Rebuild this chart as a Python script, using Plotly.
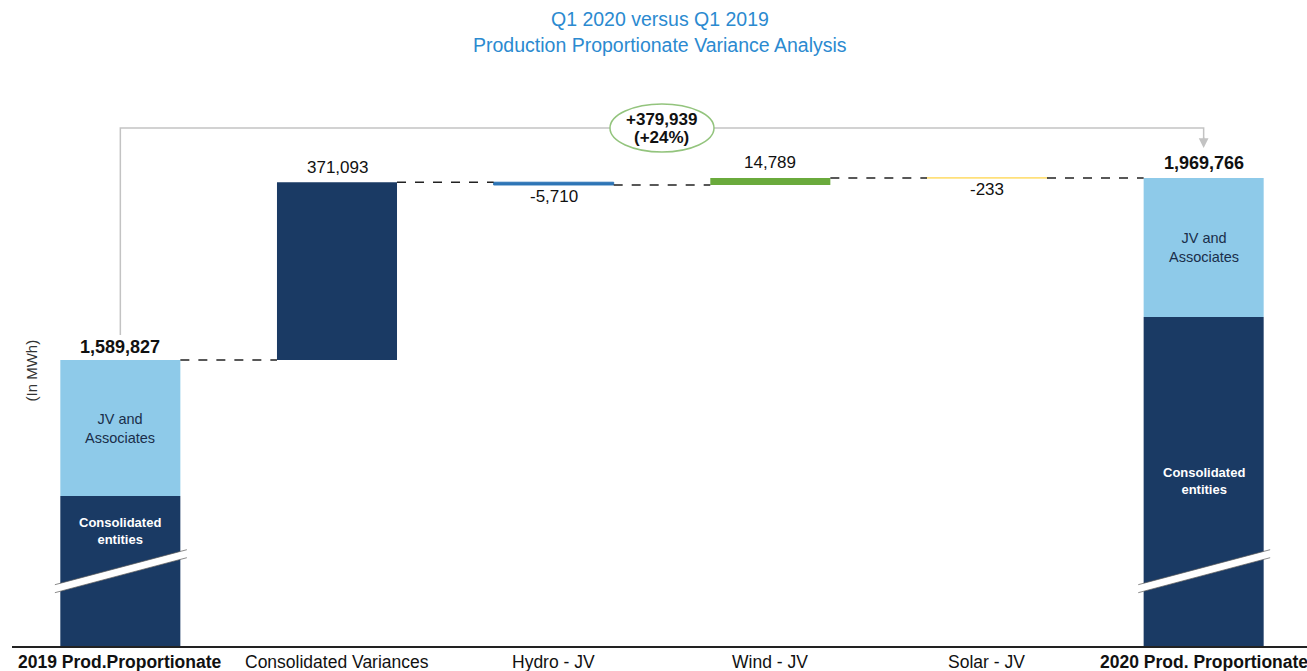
import plotly.graph_objects as go

# ---------------- data ----------------
categories = ["2019 Prod.Proportionate", "Consolidated Variances", "Hydro - JV",
              "Wind - JV", "Solar - JV", "2020 Prod. Proportionate"]
start_total = 1589827
variances = [371093, -5710, 14789, -233]          # Consolidated, Hydro, Wind, Solar
end_total = 1969766
jv_part = [284000, 290000]                         # JV and Associates segment (2019, 2020), estimated
total_change = 379939
total_change_pct = "+24%"
y_unit = "(In MWh)"
title_lines = ["Q1 2020 versus Q1 2019", "Production Proportionate Variance Analysis"]

# ---------------- style ----------------
NAVY = "#1a3a64"
LIGHT = "#8ecae9"
HYDRO = "#2e75b6"
WIND = "#6aaa3c"
SOLAR = "#ffe07a"
GRAY = "#c3c3c3"
FONT = "Liberation Sans, Arial, sans-serif"
TITLE_BLUE = "#2b8ad0"

# axis geometry (broken axis: range starts well above zero)
Y_MIN, Y_MAX = 992800, 2195200
PLOT_TOP, PLOT_BOTTOM = 70, 646
K = (Y_MAX - Y_MIN) / (PLOT_BOTTOM - PLOT_TOP)     # MWh per pixel
BW = 0.554                                          # bar width in category units
HW = BW / 2

def px(dpx):
    """convert a pixel offset into data units"""
    return dpx * K

def paper_y(py):
    return (PLOT_BOTTOM - py) / (PLOT_BOTTOM - PLOT_TOP)

# cumulative levels
levels = [start_total]
for v in variances:
    levels.append(levels[-1] + v)

fig = go.Figure()

# start / end bars (stacked: consolidated entities + JV)
totals = [start_total, end_total]
xs_tot = [categories[0], categories[5]]
fig.add_trace(go.Bar(x=xs_tot, y=[t - j for t, j in zip(totals, jv_part)], base=[0, 0],
                     marker=dict(color=NAVY, line=dict(width=0)), width=BW, hoverinfo="skip"))
fig.add_trace(go.Bar(x=xs_tot, y=jv_part, base=[t - j for t, j in zip(totals, jv_part)],
                     marker=dict(color=LIGHT, line=dict(width=0)), width=BW, hoverinfo="skip"))

# variance bars
var_colors = [NAVY, HYDRO, WIND, SOLAR]
var_line_w = [0, 1, 0, 1.6]
for i, v in enumerate(variances):
    lo = min(levels[i], levels[i + 1])
    fig.add_trace(go.Bar(x=[categories[i + 1]], y=[abs(v)], base=[lo],
                         marker=dict(color=var_colors[i], line=dict(color=var_colors[i], width=var_line_w[i])),
                         width=BW, hoverinfo="skip"))

shapes = []
# dashed connectors
for i in range(5):
    shapes.append(dict(type="line", xref="x", yref="y", x0=i + HW, x1=i + 1 - HW,
                       y0=levels[i], y1=levels[i],
                       line=dict(color="#222222", width=1.5, dash="dash")))

# break marks on start/end bars
BREAK = 1150000
for xi in [0, 5]:
    xl, xr = xi - HW - 0.025, xi + HW + 0.03
    yl_top, yl_bot = BREAK + px(-14), BREAK + px(-22)
    yr_top, yr_bot = BREAK + px(21), BREAK + px(13)
    shapes.append(dict(type="path", xref="x", yref="y",
                       path=f"M {xl},{yl_bot} L {xr},{yr_bot} L {xr},{yr_top} L {xl},{yl_top} Z",
                       fillcolor="white", line=dict(width=0)))
    for (a, b) in [(yl_top, yr_top), (yl_bot, yr_bot)]:
        shapes.append(dict(type="line", xref="x", yref="y", x0=xl, x1=xr, y0=a, y1=b,
                           line=dict(color="rgba(90,90,90,0.7)", width=1)))

# bracket showing the total change
BR_Y = end_total + px(50)
shapes.append(dict(type="path", xref="x", yref="y",
                   path=f"M 0,{start_total + px(25)} L 0,{BR_Y} L 5,{BR_Y} L 5,{end_total + px(34)}",
                   line=dict(color=GRAY, width=1.5)))
# ellipse
shapes.append(dict(type="circle", xref="x", yref="y", x0=2.5 - 0.24, x1=2.5 + 0.24,
                   y0=BR_Y - px(24), y1=BR_Y + px(24),
                   fillcolor="white", line=dict(color="#93c47d", width=1.5)))

ann = []
# title
for line, py in zip(title_lines, [19, 45]):
    ann.append(dict(x=0.5, y=paper_y(py), xref="paper", yref="paper", showarrow=False,
                    text=line, xanchor="center", yanchor="middle",
                    font=dict(size=19.5, color=TITLE_BLUE, family=FONT)))
# category labels under the axis
for i, c in enumerate(categories):
    bold = i in (0, 5)
    ann.append(dict(x=c, y=paper_y(662), xref="x", yref="paper", showarrow=False,
                    text=f"<b>{c}</b>" if bold else c, xanchor="center", yanchor="middle",
                    font=dict(size=17.5, color="#111", family=FONT)))
# arrow head at the right end of bracket
ann.append(dict(x=5, y=end_total + px(30), xref="x", yref="y", ax=5, ay=end_total + px(42),
                axref="x", ayref="y", showarrow=True, arrowhead=2, arrowsize=1.3,
                arrowwidth=1.5, arrowcolor=GRAY, text=""))
ann.append(dict(x=2.5, y=BR_Y + px(8), xref="x", yref="y", showarrow=False,
                text=f"<b>+{total_change:,}</b>", font=dict(size=17, color="#111", family=FONT)))
ann.append(dict(x=2.5, y=BR_Y - px(10), xref="x", yref="y", showarrow=False,
                text=f"<b>({total_change_pct})</b>", font=dict(size=17, color="#111", family=FONT)))

# value labels
ann.append(dict(x=0, y=start_total, yshift=13, xref="x", yref="y", showarrow=False,
                text=f"<b>{start_total:,}</b>", font=dict(size=18, color="#111", family=FONT)))
ann.append(dict(x=5, y=end_total, yshift=15, xref="x", yref="y", showarrow=False,
                text=f"<b>{end_total:,}</b>", font=dict(size=18, color="#111", family=FONT)))
for i, v in enumerate(variances):
    top = max(levels[i], levels[i + 1])
    bot = min(levels[i], levels[i + 1])
    if v >= 0:
        ann.append(dict(x=i + 1, y=top, yshift=15, xref="x", yref="y", showarrow=False,
                        text=f"{v:,}", font=dict(size=17, color="#111", family=FONT)))
    else:
        ann.append(dict(x=i + 1, y=bot, yshift=-12, xref="x", yref="y", showarrow=False,
                        text=f"{v:,}", font=dict(size=17, color="#111", family=FONT)))

# segment labels
for xi, t, j in [(0, start_total, jv_part[0]), (5, end_total, jv_part[1])]:
    ann.append(dict(x=xi, y=t - j / 2, xref="x", yref="y", showarrow=False,
                    text="JV and<br>Associates", font=dict(size=14.5, color="#1a2e4a", family=FONT)))
ann.append(dict(x=0, y=start_total - jv_part[0] - px(35), xref="x", yref="y", showarrow=False,
                text="<b>Consolidated<br>entities</b>", font=dict(size=13, color="white", family=FONT)))
ann.append(dict(x=5, y=end_total - jv_part[1] - px(164), xref="x", yref="y", showarrow=False,
                text="<b>Consolidated<br>entities</b>", font=dict(size=13, color="white", family=FONT)))

# y unit label
ann.append(dict(x=(20 - 12) / (1307 - 12), y=paper_y(371), xref="paper", yref="paper",
                showarrow=False, textangle=-90, text=y_unit,
                font=dict(size=15, color="#333", family=FONT)))

fig.update_layout(
    width=1307, height=671,
    margin=dict(l=12, r=0, t=PLOT_TOP, b=671 - PLOT_BOTTOM, pad=0, autoexpand=False),
    plot_bgcolor="white", paper_bgcolor="white",
    barmode="overlay", showlegend=False,
    xaxis=dict(type="category", categoryorder="array", categoryarray=categories,
               range=[-0.5, 5.477], showgrid=False, zeroline=False, automargin=False,
               showline=True, linecolor="#222", linewidth=1.5, ticks="",
               showticklabels=False),
    yaxis=dict(range=[Y_MIN, Y_MAX], showgrid=False, zeroline=False, showline=False,
               showticklabels=False, ticks="", automargin=False),
    shapes=shapes, annotations=ann,
)

fig.write_html("out.html")
